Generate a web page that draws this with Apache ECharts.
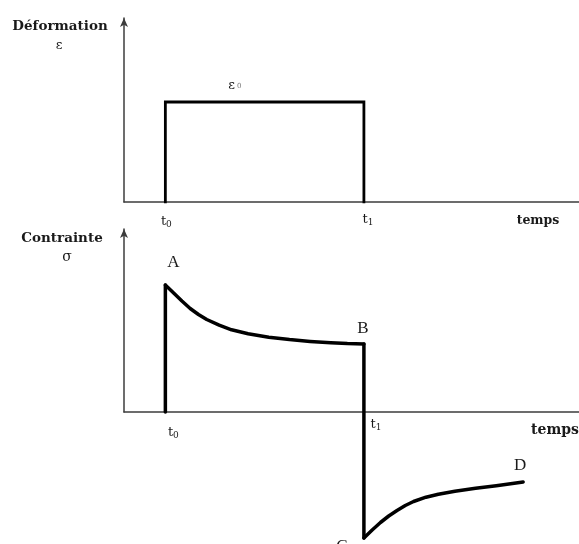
<!DOCTYPE html>
<html>
<head>
<meta charset="utf-8">
<script src="https://cdn.jsdelivr.net/npm/echarts@6/dist/echarts.min.js"></script>
<style>
html,body{margin:0;padding:0;background:#fff;}
#c{width:579px;height:544px;}
</style>
</head>
<body>
<div id="c"></div>
<script>
// ---- data ----
const timeAxisMax = 11;          // time axis extent (arbitrary units)
const strainAxisMax = 1.84;      // strain axis extent (ε0 = 1)
const stressAxisMax = 1.83;      // stress axis extent
const t0 = 1;                    // loading time
const t1 = 5.8;                  // unloading time
const strainLevel = 1;           // ε0
const relaxTime   = [1.0, 1.2, 1.4, 1.6, 1.8, 2.0, 2.3, 2.6, 3.0, 3.5, 4.0, 4.5, 5.0, 5.4, 5.8];
const relaxStress = [1.27, 1.19, 1.11, 1.035, 0.975, 0.925, 0.868, 0.822, 0.782, 0.748, 0.724, 0.706, 0.692, 0.684, 0.68];
const recoveryTime   = [5.8, 6.0, 6.2, 6.4, 6.6, 6.8, 7.0, 7.3, 7.6, 8.0, 8.5, 9.0, 9.65];
const recoveryStress = [-1.26, -1.18, -1.105, -1.04, -0.985, -0.935, -0.895, -0.852, -0.822, -0.792, -0.763, -0.737, -0.70];
const tickLabels = ['t0', 't1'];
const pointLabels = ['A', 'B', 'C', 'D'];
const axisTitles = ['Déformation', 'ε', 'Contrainte', 'σ', 'temps'];
const strainLabel = 'ε0';

// ---- build ----
const strainData = [[t0, 0], [t0, strainLevel], [t1, strainLevel], [t1, 0]];
const relaxData = relaxTime.map((t, i) => [t, relaxStress[i]]);
const recoveryData = recoveryTime.map((t, i) => [t, recoveryStress[i]]);
const riseData = [[t0, 0], [t0, relaxStress[0]]];
const dropData = [[t1, relaxStress[relaxStress.length - 1]], [t1, recoveryStress[0]]];

const chart = echarts.init(document.getElementById('c'), null, {renderer: 'canvas'});
const axisLineStyle = {color: '#3c3c3c', width: 1.5};
function xAx(gi) {
  return {type: 'value', gridIndex: gi, min: 0, max: timeAxisMax,
    axisLine: {show: true, onZero: false, lineStyle: axisLineStyle},
    axisTick: {show: false}, axisLabel: {show: false}, splitLine: {show: false}};
}
function yAx(gi, mx) {
  return {type: 'value', gridIndex: gi, min: 0, max: mx,
    axisLine: {show: true, symbol: ['none', 'arrow'], symbolSize: [6, 9], lineStyle: axisLineStyle},
    axisTick: {show: false}, axisLabel: {show: false}, splitLine: {show: false}};
}
const black = '#000';
const curveStyle = {color: black, width: 3.5, cap: 'round', join: 'round'};
chart.setOption({
  animation: false,
  backgroundColor: '#fff',
  grid: [
    {left: 124, right: 0, top: 18, height: 184},
    {left: 124, right: 0, top: 229, height: 183}
  ],
  xAxis: [xAx(0), xAx(1)],
  yAxis: [yAx(0, strainAxisMax), yAx(1, stressAxisMax)],
  series: [
    {type: 'line', xAxisIndex: 0, yAxisIndex: 0, data: strainData, symbol: 'none',
      lineStyle: {color: black, width: 2.8, cap: 'square', join: 'miter'}},
    {type: 'line', xAxisIndex: 1, yAxisIndex: 1, data: riseData, symbol: 'none', clip: false,
      lineStyle: curveStyle},
    {type: 'line', xAxisIndex: 1, yAxisIndex: 1, data: relaxData, symbol: 'none', clip: false,
      lineStyle: curveStyle},
    {type: 'line', xAxisIndex: 1, yAxisIndex: 1, data: dropData, symbol: 'none', clip: false,
      lineStyle: curveStyle},
    {type: 'line', xAxisIndex: 1, yAxisIndex: 1, data: recoveryData, symbol: 'none', clip: false,
      lineStyle: curveStyle}
  ]
});

// ---- annotations placed from data positions ----
const serif = '"DejaVu Serif", "Liberation Serif", serif';
const thinSerif = '"Liberation Serif", "DejaVu Serif", serif';
const txtCol = '#1a1a1a';
function P(gi, x, y) { return chart.convertToPixel({gridIndex: gi}, [x, y]); }
function subText(label, x, y, size) {
  return {type: 'text', x: x, y: y, style: {
    text: label[0] + '{s|' + label.slice(1) + '}',
    fontFamily: serif, fontSize: size, fill: txtCol, align: 'center', verticalAlign: 'middle',
    rich: {s: {fontFamily: serif, fontSize: Math.round(size * 0.7), fill: txtCol, verticalAlign: 'bottom', padding: [5, 0, 0, 0]}}
  }};
}
function plain(text, x, y, font, size, weight) {
  return {type: 'text', x: x, y: y, style: {text: text, fontFamily: font, fontSize: size,
    fontWeight: weight || 'normal', fill: txtCol, align: 'center', verticalAlign: 'middle'}};
}
const g = [];
// top panel
g.push(plain(axisTitles[0], 60, 26, serif, 13.5, 'bold'));
g.push(plain(axisTitles[1], 59, 46, serif, 13));
let p = P(0, t0, 0); g.push(subText(tickLabels[0], p[0] + 1, p[1] + 20, 13));
p = P(0, t1, 0); g.push(subText(tickLabels[1], p[0] + 4, p[1] + 18, 13));
g.push(plain(axisTitles[4], 538, 221, serif, 12.5, 'bold'));
p = P(0, (t0 + t1) / 2 - 0.72, strainLevel);
g.push({type: 'text', x: p[0], y: p[1] - 16, style: {
  text: strainLabel[0] + '{s|' + strainLabel.slice(1) + '}', fontFamily: serif, fontSize: 13,
  fill: txtCol, align: 'center', verticalAlign: 'middle',
  rich: {s: {fontFamily: serif, fontSize: 7, fill: '#777', padding: [1, 0, 0, 2]}}}});
// bottom panel
g.push(plain(axisTitles[2], 62, 238, serif, 13.5, 'bold'));
g.push(plain(axisTitles[3], 67, 257, serif, 14));
p = P(1, t0, 0); g.push(subText(tickLabels[0], p[0] + 8, p[1] + 21, 13));
p = P(1, t1, 0); g.push(subText(tickLabels[1], p[0] + 12, p[1] + 13, 13));
g.push(plain(axisTitles[4], 555, 430, serif, 14, 'bold'));
const A = P(1, relaxTime[0], relaxStress[0]);
const B = P(1, relaxTime[relaxTime.length - 1], relaxStress[relaxStress.length - 1]);
const C = P(1, recoveryTime[0], recoveryStress[0]);
const D = P(1, recoveryTime[recoveryTime.length - 1], recoveryStress[recoveryStress.length - 1]);
g.push(plain(pointLabels[0], A[0] + 8, A[1] - 22, thinSerif, 17));
g.push(plain(pointLabels[1], B[0] - 1, B[1] - 15, thinSerif, 17));
g.push(plain(pointLabels[2], C[0] - 22, C[1] + 9, thinSerif, 17));
g.push(plain(pointLabels[3], D[0] - 3, D[1] - 16, thinSerif, 17));
chart.setOption({graphic: g});
</script>
</body>
</html>
